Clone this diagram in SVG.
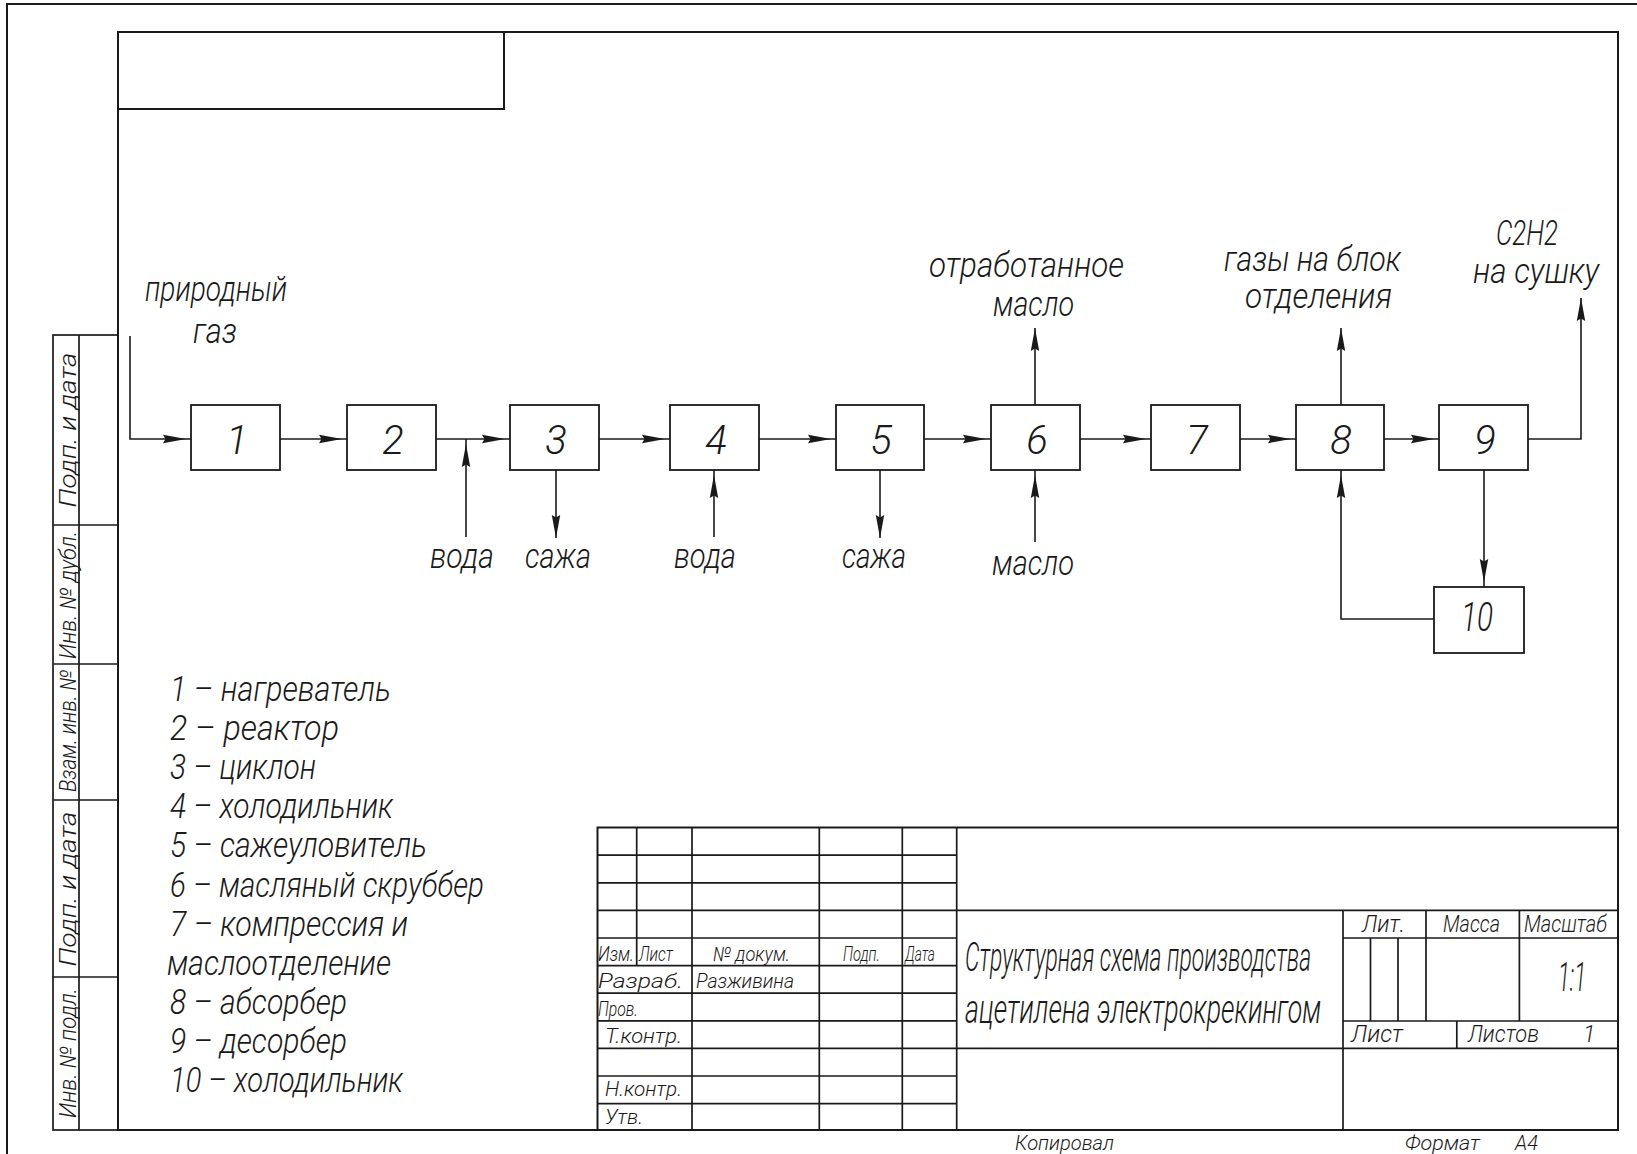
<svg xmlns="http://www.w3.org/2000/svg" width="1637" height="1154" viewBox="0 0 1637 1154">
<style>
  .frame{fill:none;stroke:#1a1a1a;stroke-width:2}
  .ln{fill:none;stroke:#1a1a1a;stroke-width:1.7}
  .box{fill:none;stroke:#1a1a1a;stroke-width:1.8}
  .con{fill:none;stroke:#1a1a1a;stroke-width:1.6}
  .arr{marker-end:url(#a)}
  .arrin{marker-end:url(#ai)}
  text{font-family:'Roboto','Liberation Sans','DejaVu Sans',sans-serif;font-style:italic;font-weight:300;fill:#1a1a1a}
  .lbl{font-size:35px}
  .num{font-size:40px;text-anchor:middle}
  .leg{font-size:35px}
  .side{font-size:23px;text-anchor:middle}
  .tb{font-size:20px}
  .tb2{font-size:23px}
  .ttl{font-size:40px}
</style>
<defs>
  <marker id="a" markerUnits="userSpaceOnUse" viewBox="-30 -6 30 12" refX="0" refY="0" markerWidth="30" markerHeight="12" orient="auto"><path d="M0,0 L-23,-4.2 L-20.5,0 L-23,4.2 Z" fill="#1a1a1a"/></marker>
  <marker id="ai" markerUnits="userSpaceOnUse" viewBox="-30 -6 30 12" refX="0" refY="0" markerWidth="30" markerHeight="12" orient="auto"><path d="M-5,0 L-28,-4.2 L-25.5,0 L-28,4.2 Z" fill="#1a1a1a"/></marker>
</defs>
<rect width="1637" height="1154" fill="#fff"/>

<g id="frame">
  <path class="frame" d="M7,1154 V4 H1637"/>
  <rect class="frame" x="118" y="32" width="1500" height="1098"/>
  <path class="frame" d="M118,109 H504 V32"/>
  <rect class="ln" x="53" y="335" width="65" height="795"/>
  <path class="ln" d="M79,335 V1130 M53,525 H118 M53,664 H118 M53,800 H118 M53,977 H118"/>
  <text class="side" transform="rotate(-90 76 430)" x="76" y="430" textLength="155" lengthAdjust="spacingAndGlyphs">Подп. и дата</text>
  <text class="side" transform="rotate(-90 76 595)" x="76" y="595" textLength="128" lengthAdjust="spacingAndGlyphs">Инв. № дубл.</text>
  <text class="side" transform="rotate(-90 76 731)" x="76" y="731" textLength="122" lengthAdjust="spacingAndGlyphs">Взам. инв. №</text>
  <text class="side" transform="rotate(-90 76 889)" x="76" y="889" textLength="155" lengthAdjust="spacingAndGlyphs">Подп. и дата</text>
  <text class="side" transform="rotate(-90 76 1053)" x="76" y="1053" textLength="130" lengthAdjust="spacingAndGlyphs">Инв. № подл.</text>
</g>

<g id="connectors">
  <path class="con arrin" d="M130,336 V439 H191"/>
  <path class="con arrin" d="M280,439 H347"/>
  <path class="con arrin" d="M436,439 H510"/>
  <path class="con arrin" d="M466,537 V439"/>
  <path class="con arr" d="M556,470 V538"/>
  <path class="con arrin" d="M599,439 H670"/>
  <path class="con arrin" d="M714,537 V470"/>
  <path class="con arrin" d="M759,439 H836"/>
  <path class="con arr" d="M880,470 V538"/>
  <path class="con arrin" d="M924,439 H991"/>
  <path class="con arrin" d="M1035,542 V470"/>
  <path class="con arr" d="M1035,405 V328"/>
  <path class="con arrin" d="M1080,439 H1151"/>
  <path class="con arrin" d="M1240,439 H1296"/>
  <path class="con arr" d="M1341,405 V328"/>
  <path class="con arrin" d="M1384,439 H1439"/>
  <path class="con arr" d="M1528,439 H1581 V298"/>
  <path class="con arrin" d="M1484,470 V587"/>
  <path class="con arrin" d="M1434,619 H1341 V470"/>
</g>

<g id="node1"><rect class="box" x="191" y="405" width="89" height="65"/><text class="num" x="237" y="454">1</text></g>
<g id="node2"><rect class="box" x="347" y="405" width="89" height="65"/><text class="num" x="393" y="454">2</text></g>
<g id="node3"><rect class="box" x="510" y="405" width="89" height="65"/><text class="num" x="556" y="454">3</text></g>
<g id="node4"><rect class="box" x="670" y="405" width="89" height="65"/><text class="num" x="716" y="454">4</text></g>
<g id="node5"><rect class="box" x="836" y="405" width="88" height="65"/><text class="num" x="881" y="454">5</text></g>
<g id="node6"><rect class="box" x="991" y="405" width="89" height="65"/><text class="num" x="1037" y="454">6</text></g>
<g id="node7"><rect class="box" x="1151" y="405" width="89" height="65"/><text class="num" x="1197" y="454">7</text></g>
<g id="node8"><rect class="box" x="1296" y="405" width="88" height="65"/><text class="num" x="1341" y="454">8</text></g>
<g id="node9"><rect class="box" x="1439" y="405" width="89" height="65"/><text class="num" x="1485" y="454">9</text></g>
<g id="node10"><rect class="box" x="1434" y="587" width="90" height="66"/><text class="num" x="1477" y="631" textLength="32" lengthAdjust="spacingAndGlyphs">10</text></g>

<g id="labels">
  <text class="lbl" x="145" y="301" textLength="142" lengthAdjust="spacingAndGlyphs">природный</text>
  <text class="lbl" x="193" y="343" textLength="44" lengthAdjust="spacingAndGlyphs">газ</text>
  <text class="lbl" x="430" y="568" textLength="64" lengthAdjust="spacingAndGlyphs">вода</text>
  <text class="lbl" x="525" y="568" textLength="66" lengthAdjust="spacingAndGlyphs">сажа</text>
  <text class="lbl" x="674" y="568" textLength="62" lengthAdjust="spacingAndGlyphs">вода</text>
  <text class="lbl" x="842" y="568" textLength="64" lengthAdjust="spacingAndGlyphs">сажа</text>
  <text class="lbl" x="992" y="575" textLength="82" lengthAdjust="spacingAndGlyphs">масло</text>
  <text class="lbl" x="929" y="277" textLength="195" lengthAdjust="spacingAndGlyphs">отработанное</text>
  <text class="lbl" x="993" y="316" textLength="81" lengthAdjust="spacingAndGlyphs">масло</text>
  <text class="lbl" x="1224" y="271" textLength="177" lengthAdjust="spacingAndGlyphs">газы на блок</text>
  <text class="lbl" x="1245" y="308" textLength="147" lengthAdjust="spacingAndGlyphs">отделения</text>
  <text class="lbl" x="1496" y="245" textLength="62" lengthAdjust="spacingAndGlyphs">C2H2</text>
  <text class="lbl" x="1473" y="283" textLength="126" lengthAdjust="spacingAndGlyphs">на сушку</text>
</g>

<g id="legend">
  <text class="leg" x="170" y="701" textLength="221" lengthAdjust="spacingAndGlyphs">1 – нагреватель</text>
  <text class="leg" x="170" y="740" textLength="169" lengthAdjust="spacingAndGlyphs">2 – реактор</text>
  <text class="leg" x="170" y="779" textLength="146" lengthAdjust="spacingAndGlyphs">3 – циклон</text>
  <text class="leg" x="170" y="818" textLength="223" lengthAdjust="spacingAndGlyphs">4 – холодильник</text>
  <text class="leg" x="170" y="857" textLength="257" lengthAdjust="spacingAndGlyphs">5 – сажеуловитель</text>
  <text class="leg" x="170" y="897" textLength="314" lengthAdjust="spacingAndGlyphs">6 – масляный скруббер</text>
  <text class="leg" x="170" y="936" textLength="238" lengthAdjust="spacingAndGlyphs">7 – компрессия и</text>
  <text class="leg" x="167" y="975" textLength="224" lengthAdjust="spacingAndGlyphs">маслоотделение</text>
  <text class="leg" x="170" y="1014" textLength="177" lengthAdjust="spacingAndGlyphs">8 – абсорбер</text>
  <text class="leg" x="170" y="1053" textLength="177" lengthAdjust="spacingAndGlyphs">9 – десорбер</text>
  <text class="leg" x="170" y="1092" textLength="233" lengthAdjust="spacingAndGlyphs">10 – холодильник</text>
</g>

<g id="title-block">
  <rect class="frame" x="597.5" y="827.5" width="1020.5" height="302.5"/>
  <path class="ln" d="M597.5,855.2 H956.7 M597.5,882.8 H956.7 M597.5,910.4 H1618 M597.5,938 H956.7 M597.5,965.6 H956.7 M597.5,993.2 H956.7 M597.5,1020.8 H956.7 M597.5,1048.4 H1618 M597.5,1076 H956.7 M597.5,1103.6 H956.7"/>
  <path class="ln" d="M636.7,827.5 V965.6 M692,827.5 V1130 M819.3,827.5 V1130 M902.3,827.5 V1130 M956.7,827.5 V1130"/>
  <path class="ln" d="M1343,910.4 V1130 M1343,938 H1618 M1343,1021 H1618 M1426,910.4 V1021 M1519.4,910.4 V1021 M1370.5,938 V1021 M1398,938 V1021 M1456.8,1021 V1048.4"/>
  <text class="tb" x="598" y="961" textLength="36" lengthAdjust="spacingAndGlyphs">Изм.</text>
  <text class="tb" x="639" y="961" textLength="34" lengthAdjust="spacingAndGlyphs">Лист</text>
  <text class="tb" x="713" y="961" textLength="77" lengthAdjust="spacingAndGlyphs">№ докум.</text>
  <text class="tb" x="843" y="961" textLength="37" lengthAdjust="spacingAndGlyphs">Подп.</text>
  <text class="tb" x="905" y="961" textLength="30" lengthAdjust="spacingAndGlyphs">Дата</text>
  <text class="tb" x="598" y="988" textLength="85" lengthAdjust="spacingAndGlyphs">Разраб.</text>
  <text class="tb" x="696" y="988" textLength="98" lengthAdjust="spacingAndGlyphs">Разживина</text>
  <text class="tb" x="598" y="1016" textLength="40" lengthAdjust="spacingAndGlyphs">Пров.</text>
  <text class="tb" x="605" y="1043" textLength="77" lengthAdjust="spacingAndGlyphs">Т.контр.</text>
  <text class="tb" x="605" y="1096" textLength="77" lengthAdjust="spacingAndGlyphs">Н.контр.</text>
  <text class="tb" x="605" y="1124" textLength="38" lengthAdjust="spacingAndGlyphs">Утв.</text>
  <text class="ttl" transform="matrix(0.6 0 0 1 965 971)" x="0" y="0" textLength="577" lengthAdjust="spacingAndGlyphs">Структурная схема производства</text>
  <text class="ttl" transform="matrix(0.7 0 0 1 965 1023)" x="0" y="0" textLength="509" lengthAdjust="spacingAndGlyphs">ацетилена электрокрекингом</text>
  <text class="tb2" x="1362" y="932" textLength="43" lengthAdjust="spacingAndGlyphs">Лит.</text>
  <text class="tb2" x="1443" y="932" textLength="57" lengthAdjust="spacingAndGlyphs">Масса</text>
  <text class="tb2" x="1524" y="932" textLength="83" lengthAdjust="spacingAndGlyphs">Масштаб</text>
  <text class="num" x="1572" y="991" textLength="28" lengthAdjust="spacingAndGlyphs">1:1</text>
  <text class="tb2" x="1351" y="1042" textLength="52" lengthAdjust="spacingAndGlyphs">Лист</text>
  <text class="tb2" x="1468" y="1042" textLength="71" lengthAdjust="spacingAndGlyphs">Листов</text>
  <text class="tb2" x="1583" y="1042">1</text>
  <text class="tb" x="1015" y="1150" textLength="99" lengthAdjust="spacingAndGlyphs">Копировал</text>
  <text class="tb" x="1405" y="1150" textLength="75" lengthAdjust="spacingAndGlyphs">Формат</text>
  <text class="tb" x="1515" y="1150" textLength="23" lengthAdjust="spacingAndGlyphs">A4</text>
</g>
</svg>
